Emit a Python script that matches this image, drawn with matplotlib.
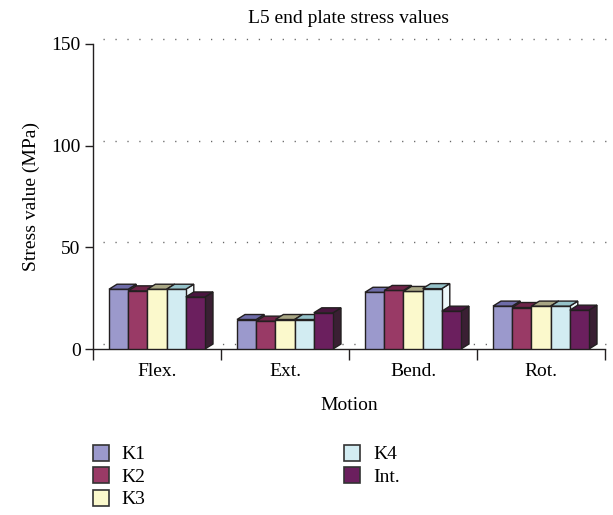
import matplotlib
matplotlib.use("Agg")
import matplotlib.pyplot as plt
import matplotlib.transforms as mtransforms
from matplotlib.patches import Polygon
from matplotlib.lines import Line2D
import numpy as np

categories = ["Flex.", "Ext.", "Bend.", "Rot."]
series_names = ["K1", "K2", "K3", "K4", "Int."]
K1 = [29.4, 14.5, 27.9, 21.1]
K2 = [28.6, 13.7, 28.8, 20.4]
K3 = [29.4, 14.5, 28.3, 21.1]
K4 = [29.4, 14.5, 29.7, 21.1]
Int = [25.6, 17.8, 18.6, 19.1]
values = [K1, K2, K3, K4, Int]
yticks = [0, 50, 100, 150]

face_colors = ["#9b99cc", "#993a66", "#fbf9cc", "#d2ecf2", "#6b1f5e"]
top_colors = ["#6e6ca8", "#6e2448", "#a8a684", "#95c2c9", "#4a1640"]
side_colors = ["#6e6ca8", "#5a1d3b", "#c8c6a0", "#eef8fa", "#3a1f33"]
edge = "#231f20"

serif = ["Liberation Serif", "DejaVu Serif"]
plt.rcParams["font.family"] = serif

fig = plt.figure(figsize=(6.13, 5.15), dpi=100)
ax = fig.add_axes([93 / 613, 1 - 349 / 515, 512 / 613, 305 / 515])
ax.set_xlim(0, 4)
ax.set_ylim(0, 150)

# 3D depth in data units (converted from pixel depth)
px_x = 4 / 512
px_y = 150 / 305
dx = 8 * px_x
dy = 5 * px_y

bw = 0.15
start = 0.125
for i, vals in enumerate(values):
    for j, v in enumerate(vals):
        x0 = j + start + i * bw
        ax.bar(x0, v, width=bw, align="edge", color=face_colors[i],
               edgecolor=edge, linewidth=1.0, zorder=3 + i)
        top = Polygon([(x0, v), (x0 + dx, v + dy), (x0 + bw + dx, v + dy), (x0 + bw, v)],
                      closed=True, facecolor=top_colors[i], edgecolor=edge,
                      linewidth=1.0, zorder=3 + i)
        side = Polygon([(x0 + bw, 0), (x0 + bw + dx, dy), (x0 + bw + dx, v + dy), (x0 + bw, v)],
                       closed=True, facecolor=side_colors[i], edgecolor=edge,
                       linewidth=1.0, zorder=2.9 + i)
        ax.add_patch(side)
        ax.add_patch(top)

# back-wall dotted gridlines (offset for depth)
off = mtransforms.ScaledTranslation(10 / 100, 5 / 100, fig.dpi_scale_trans)
for t in yticks:
    ax.plot([0, 3.94], [t, t], linestyle=(0, (0.9, 7.7)), color="#666666", linewidth=1.0,
            transform=ax.transData + off, zorder=1, clip_on=False)

for s in ["top", "right"]:
    ax.spines[s].set_visible(False)
for s in ["left", "bottom"]:
    ax.spines[s].set_color("#231f20")
    ax.spines[s].set_linewidth(1.0)

ax.set_yticks(yticks)
ax.set_yticklabels([str(t) for t in yticks], fontsize=14)
ax.tick_params(axis="y", direction="out", length=6, width=1.0, color="#231f20", pad=3)
ax.set_xticks(np.arange(0, 5))
ax.set_xticklabels([])
ax.tick_params(axis="x", which="major", direction="out", length=8, width=1.0, color="#231f20")
ax.set_xticks(np.arange(len(categories)) + 0.5, minor=True)
ax.set_xticklabels(categories, minor=True, fontsize=14)
ax.tick_params(axis="x", which="minor", length=0, pad=10)

ax.set_ylabel("Stress value (MPa)", fontsize=14, labelpad=8)
ax.set_xlabel("Motion", fontsize=14, labelpad=12)
ax.set_title("L5 end plate stress values", fontsize=14, pad=15)

handles = [Line2D([], [], linestyle="none", marker="s", markersize=11,
                  markerfacecolor=face_colors[i], markeredgecolor="#333333", markeredgewidth=1.2)
           for i in range(len(series_names))]
fig.legend(handles, series_names, ncol=2, loc="upper left",
           bbox_to_anchor=(83 / 613, 1 - 438 / 515), frameon=False, fontsize=14,
           handlelength=1.0, handletextpad=0.6, columnspacing=10.1, labelspacing=0.25,
           borderaxespad=0)

fig.savefig("out.png", dpi=100)
